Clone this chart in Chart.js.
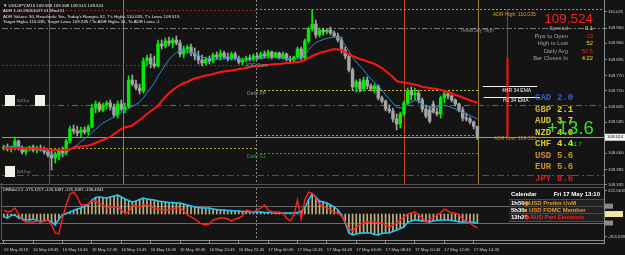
<!DOCTYPE html>
<html>
<head>
<meta charset="utf-8">
<title>USDJPY M15</title>
<script src="https://cdn.jsdelivr.net/npm/chart.js@4.4.1/dist/chart.umd.min.js"></script>
<style>
  html, body { margin: 0; padding: 0; background: #141414; }
  #box { position: relative; width: 625px; height: 255px; overflow: hidden; font-family: 'Liberation Sans', Arial, sans-serif; }
  canvas { position: absolute; left: 0; }
  .t { position: absolute; white-space: nowrap; line-height: 1; }
  .r { text-align: right; }
  .mono { font-family: 'Liberation Mono', monospace; font-weight: bold; }
  .wb { position: absolute; background: #f2f2ea; width: 10px; height: 11px; }
  .cal { position: absolute; left: 509px; width: 95px; height: 7px; font-weight: bold; font-size: 6px; line-height: 7px; color: #fff; }
  .cal span { position: absolute; top: 0; }
</style>
</head>
<body>
<div id="box">
  <canvas id="main" width="625" height="190" style="top:0;width:625px;height:190px"></canvas>
  <canvas id="cci" width="625" height="72" style="top:183px;width:625px;height:72px"></canvas>

  <div class="t" style="left:3px;top:2.5px;font-size:4.4px;line-height:5.6px;color:#e6e6e6">
    ▼ USDJPY,M15 109.568 109.568 109.515 109.524<br>
    ADR 1.00 20051027 01 Mod 01<br>
    ADR Values: 50, Reached= Yes, Today's Range= 52, T's High= 110.035, T's Low= 109.515<br>
    Target High= 110.035, Target Low= 109.535 / To ADR High= 51, To ADR Low= -1
  </div>

  <div class="wb" style="left:5px;top:95px"></div>
  <div class="wb" style="left:35px;top:95px"></div>
  <div class="t" style="left:17px;top:99px;font-size:4px;color:#9a9a9a">5015 p</div>
  <div class="wb" style="left:5px;top:166px"></div>
  <div class="t" style="left:17px;top:170px;font-size:4px;color:#9a9a9a">5015 rp</div>

  <div class="t" style="left:493px;top:11.5px;font-size:5px;color:#e0a020">ADR High: 110.035</div>
  <div class="t" style="left:460px;top:27.5px;font-size:5px;color:#8c8c8c">Yesterday High</div>
  <div class="t" style="left:245px;top:62.5px;font-size:5px;color:#8c8c8c">ADR Start</div>
  <div class="t" style="left:247px;top:90.5px;font-size:5px;color:#8c8c8c">Daily PP</div>
  <div class="t" style="left:247px;top:153.5px;font-size:5px;color:#30a030">Daily S1</div>
  <div class="t" style="left:494px;top:135.5px;font-size:5px;color:#c08030">ADR Low: 109.535</div>
  <div class="t" style="left:502px;top:87.5px;font-size:5px;color:#f0f0f0">4HR 34 EMA</div>
  <div class="t" style="left:503px;top:97.5px;font-size:5px;color:#f0f0f0">H1 34 EMA</div>

  <div class="t r" style="right:32px;top:11.5px;font-size:13.5px;color:#ff1e1e">109.524</div>
  <div class="t r" style="right:57px;top:25.3px;font-size:5.8px;line-height:7.4px;color:#a0a0a0">
    Spread<br>Pips to Open<br>High to Low<br>Daily Avg<br>Bar Closes In
  </div>
  <div class="t r" style="right:32px;top:25.3px;font-size:5.8px;line-height:7.4px">
    <span style="color:#f0e020">0.1</span><br>
    <span style="color:#ff2020">-13</span><br>
    <span style="color:#f0e020">52</span><br>
    <span style="color:#ff2020">50.5</span><br>
    <span style="color:#f0e020">4:22</span>
  </div>

  <div class="t mono" style="left:535px;top:93.3px;font-size:9px;line-height:11.5px">
    <span style="color:#2f63c9">CAD</span><br>
    <span style="color:#c8b030">GBP</span><br>
    <span style="color:#d8c830">AUD</span><br>
    <span style="color:#d8c830">NZD</span><br>
    <span style="color:#d8c830">CHF</span><br>
    <span style="color:#d08a28">USD</span><br>
    <span style="color:#d08a28">EUR</span><br>
    <span style="color:#d82020">JPY</span>
  </div>
  <div class="t mono" style="left:557px;top:93.3px;font-size:9px;line-height:11.5px">
    <span style="color:#2f63c9">2.0</span><br>
    <span style="color:#e8d820">2.1</span><br>
    <span style="color:#e8d820">3.7</span><br>
    <span style="color:#e8d820">4.0</span><br>
    <span style="color:#e8d820">4.4</span><br>
    <span style="color:#d08a28">5.6</span><br>
    <span style="color:#d08a28">5.6</span><br>
    <span style="color:#d82020">8.6</span>
  </div>
  <div class="t" style="left:547px;top:119px;font-size:18.5px;color:#2ee02e">+13.6</div>
  <div class="t" style="left:568px;top:142px;font-size:5.5px;color:#2ee02e">+11.7</div>

  <div class="t" style="left:3px;top:188px;font-size:4.2px;color:#e6e6e6">DRBdsCCI -175.1217 -123.1087 -121.1087 -136.4341</div>

  <div class="cal" style="top:190.5px">
    <span style="left:2px">Calendar</span><span style="right:4px">Fri 17 May 13:10</span>
  </div>
  <div class="cal" style="top:198.5px;background:rgba(34,34,34,0.9);border-top:1px solid #4a4a4a">
    <span style="left:2px">1h50</span><span style="left:15px;color:#e89a2c">◉</span><span style="left:20px;color:#e89a2c">USD Prelim UoM</span>
  </div>
  <div class="cal" style="top:205.5px;background:rgba(34,34,34,0.9);border-top:1px solid #4a4a4a">
    <span style="left:2px">5h30</span><span style="left:15px;color:#e89a2c">■</span><span style="left:20px;color:#e89a2c">USD FOMC Member</span>
  </div>
  <div class="cal" style="top:212.5px;background:rgba(34,34,34,0.9);border-top:1px solid #4a4a4a;border-bottom:1px solid #4a4a4a">
    <span style="left:2px">13h20</span><span style="left:16px;color:#ff2020">◆</span><span style="left:21px;color:#ff2020">AUD Parl Elections</span>
  </div>
</div>

<script>
// time axis: one bar every 15 minutes, a label every 8 bars
const timeLabels = ['16 May 2019', '16 May 08:45', '16 May 10:45', '16 May 12:45', '16 May 14:45',
  '16 May 16:45', '16 May 18:45', '16 May 20:45', '16 May 22:45', '17 May 00:45', '17 May 02:45',
  '17 May 04:45', '17 May 06:45', '17 May 08:45', '17 May 10:45', '17 May 12:45', '17 May 14:45'];
const timeLabelIdx = [0, 8, 16, 24, 32, 40, 48, 56, 64, 72, 80, 88, 96, 104, 112, 120, 128];

// USDJPY M15 candles
const opens = [
  109.481, 109.485, 109.477, 109.481, 109.509, 109.481, 109.465, 109.477, 109.485, 109.473,
  109.481, 109.473, 109.465, 109.453, 109.441, 109.449, 109.473, 109.461, 109.509, 109.557,
  109.549, 109.541, 109.553, 109.545, 109.565, 109.641, 109.657, 109.633, 109.653, 109.661,
  109.645, 109.613, 109.657, 109.637, 109.645, 109.753, 109.737, 109.721, 109.709, 109.829,
  109.841, 109.817, 109.809, 109.897, 109.889, 109.909, 109.901, 109.913, 109.901, 109.857,
  109.877, 109.885, 109.861, 109.849, 109.833, 109.821, 109.837, 109.829, 109.853, 109.845,
  109.861, 109.845, 109.837, 109.857, 109.841, 109.825, 109.833, 109.841, 109.837, 109.849,
  109.841, 109.857, 109.849, 109.865, 109.845, 109.861, 109.841, 109.857, 109.837, 109.833,
  109.845, 109.877, 109.841, 109.909, 109.957, 109.977, 109.933, 109.953, 109.945, 109.953,
  109.941, 109.929, 109.913, 109.873, 109.849, 109.793, 109.725, 109.745, 109.717, 109.753,
  109.729, 109.717, 109.729, 109.681, 109.669, 109.637, 109.629, 109.597, 109.577, 109.617,
  109.661, 109.709, 109.693, 109.701, 109.673, 109.637, 109.633, 109.657, 109.625, 109.617,
  109.681, 109.697, 109.689, 109.673, 109.657, 109.633, 109.601, 109.597, 109.585, 109.568];
const highs = [
  109.493, 109.497, 109.489, 109.525, 109.513, 109.489, 109.485, 109.489, 109.493, 109.489,
  109.493, 109.485, 109.477, 109.469, 109.465, 109.481, 109.485, 109.517, 109.569, 109.573,
  109.569, 109.565, 109.565, 109.573, 109.657, 109.669, 109.665, 109.661, 109.669, 109.673,
  109.657, 109.669, 109.673, 109.661, 109.769, 109.773, 109.753, 109.737, 109.841, 109.853,
  109.857, 109.849, 109.913, 109.913, 109.921, 109.925, 109.921, 109.929, 109.913, 109.889,
  109.893, 109.897, 109.881, 109.869, 109.853, 109.845, 109.849, 109.861, 109.865, 109.873,
  109.869, 109.861, 109.865, 109.865, 109.849, 109.841, 109.849, 109.853, 109.857, 109.861,
  109.865, 109.869, 109.873, 109.869, 109.865, 109.865, 109.865, 109.861, 109.849, 109.849,
  109.885, 109.885, 109.917, 109.965, 110.035, 109.993, 109.961, 109.961, 109.957, 109.965,
  109.949, 109.941, 109.925, 109.885, 109.857, 109.801, 109.753, 109.757, 109.765, 109.765,
  109.737, 109.737, 109.733, 109.689, 109.673, 109.653, 109.641, 109.617, 109.625, 109.669,
  109.721, 109.725, 109.721, 109.713, 109.681, 109.653, 109.649, 109.669, 109.641, 109.689,
  109.705, 109.701, 109.693, 109.677, 109.661, 109.645, 109.621, 109.605, 109.589, 109.568];
const lows = [
  109.473, 109.469, 109.465, 109.473, 109.473, 109.457, 109.453, 109.469, 109.465, 109.461,
  109.469, 109.457, 109.445, 109.393, 109.421, 109.433, 109.445, 109.453, 109.501, 109.537,
  109.529, 109.525, 109.537, 109.533, 109.561, 109.621, 109.625, 109.625, 109.637, 109.633,
  109.605, 109.601, 109.629, 109.621, 109.641, 109.729, 109.713, 109.697, 109.701, 109.809,
  109.801, 109.801, 109.805, 109.877, 109.881, 109.889, 109.881, 109.893, 109.845, 109.841,
  109.861, 109.849, 109.833, 109.817, 109.809, 109.813, 109.817, 109.821, 109.837, 109.833,
  109.837, 109.829, 109.833, 109.833, 109.817, 109.813, 109.825, 109.829, 109.829, 109.833,
  109.837, 109.841, 109.841, 109.837, 109.841, 109.837, 109.837, 109.829, 109.825, 109.825,
  109.841, 109.833, 109.833, 109.901, 109.949, 109.921, 109.925, 109.933, 109.937, 109.933,
  109.925, 109.905, 109.861, 109.837, 109.785, 109.713, 109.705, 109.705, 109.709, 109.717,
  109.709, 109.701, 109.673, 109.661, 109.629, 109.621, 109.585, 109.553, 109.561, 109.609,
  109.653, 109.673, 109.673, 109.661, 109.625, 109.601, 109.581, 109.621, 109.609, 109.601,
  109.661, 109.677, 109.665, 109.649, 109.625, 109.589, 109.589, 109.577, 109.557, 109.515];
const closes = [
  109.485, 109.477, 109.481, 109.509, 109.481, 109.465, 109.477, 109.485, 109.473, 109.481,
  109.473, 109.465, 109.453, 109.441, 109.457, 109.473, 109.461, 109.509, 109.557, 109.549,
  109.541, 109.553, 109.545, 109.565, 109.641, 109.657, 109.633, 109.653, 109.661, 109.645,
  109.613, 109.657, 109.637, 109.645, 109.753, 109.737, 109.721, 109.709, 109.829, 109.841,
  109.817, 109.809, 109.897, 109.889, 109.909, 109.901, 109.913, 109.901, 109.857, 109.877,
  109.885, 109.861, 109.849, 109.833, 109.821, 109.837, 109.829, 109.853, 109.845, 109.861,
  109.845, 109.837, 109.857, 109.841, 109.825, 109.833, 109.841, 109.837, 109.849, 109.841,
  109.857, 109.849, 109.865, 109.845, 109.861, 109.841, 109.857, 109.837, 109.833, 109.845,
  109.877, 109.841, 109.909, 109.957, 109.977, 109.933, 109.953, 109.945, 109.953, 109.941,
  109.929, 109.913, 109.873, 109.849, 109.793, 109.725, 109.745, 109.717, 109.753, 109.729,
  109.717, 109.729, 109.681, 109.669, 109.637, 109.629, 109.597, 109.577, 109.617, 109.661,
  109.709, 109.693, 109.701, 109.673, 109.637, 109.609, 109.589, 109.625, 109.617, 109.681,
  109.697, 109.689, 109.673, 109.657, 109.633, 109.601, 109.597, 109.585, 109.568, 109.524];

// moving averages
const emaSlow = [
  109.481, 109.481, 109.481, 109.481, 109.481, 109.479, 109.479, 109.479, 109.479, 109.479,
  109.477, 109.477, 109.475, 109.473, 109.473, 109.473, 109.473, 109.473, 109.477, 109.481,
  109.485, 109.487, 109.489, 109.491, 109.495, 109.501, 109.507, 109.513, 109.519, 109.525,
  109.537, 109.547, 109.557, 109.563, 109.567, 109.571, 109.583, 109.593, 109.605, 109.617,
  109.629, 109.639, 109.649, 109.669, 109.685, 109.701, 109.713, 109.723, 109.733, 109.741,
  109.745, 109.753, 109.759, 109.763, 109.767, 109.771, 109.773, 109.777, 109.781, 109.785,
  109.787, 109.789, 109.791, 109.793, 109.797, 109.799, 109.801, 109.805, 109.807, 109.809,
  109.811, 109.813, 109.813, 109.815, 109.817, 109.817, 109.819, 109.821, 109.821, 109.823,
  109.825, 109.827, 109.833, 109.841, 109.849, 109.855, 109.861, 109.865, 109.869, 109.873,
  109.877, 109.875, 109.873, 109.865, 109.855, 109.849, 109.843, 109.837, 109.833, 109.827,
  109.823, 109.817, 109.809, 109.801, 109.789, 109.777, 109.765, 109.749, 109.745, 109.743,
  109.741, 109.737, 109.735, 109.731, 109.725, 109.723, 109.721, 109.719, 109.717, 109.713,
  109.709, 109.705, 109.699, 109.693, 109.689, 109.683, 109.677, 109.671, 109.667, 109.661];
const emaFast = [
  109.485, 109.485, 109.485, 109.489, 109.487, 109.483, 109.481, 109.481, 109.479, 109.477,
  109.473, 109.471, 109.467, 109.461, 109.453, 109.451, 109.453, 109.461, 109.473, 109.485,
  109.493, 109.507, 109.517, 109.529, 109.543, 109.555, 109.569, 109.581, 109.589, 109.597,
  109.605, 109.615, 109.623, 109.629, 109.639, 109.647, 109.655, 109.665, 109.681, 109.701,
  109.721, 109.741, 109.769, 109.791, 109.813, 109.835, 109.851, 109.863, 109.869, 109.871,
  109.867, 109.863, 109.857, 109.851, 109.845, 109.841, 109.839, 109.837, 109.835, 109.837,
  109.839, 109.839, 109.841, 109.839, 109.837, 109.835, 109.833, 109.833, 109.835, 109.837,
  109.839, 109.841, 109.843, 109.843, 109.843, 109.841, 109.841, 109.839, 109.837, 109.835,
  109.837, 109.841, 109.853, 109.873, 109.891, 109.903, 109.909, 109.915, 109.919, 109.923,
  109.925, 109.923, 109.913, 109.893, 109.869, 109.845, 109.825, 109.809, 109.793, 109.773,
  109.757, 109.743, 109.729, 109.713, 109.693, 109.677, 109.661, 109.645, 109.641, 109.645,
  109.657, 109.665, 109.671, 109.669, 109.655, 109.649, 109.645, 109.643, 109.645, 109.649,
  109.651, 109.649, 109.643, 109.637, 109.629, 109.623, 109.617, 109.611, 109.605, 109.597];

const priceTicks = [110.025, 109.960, 109.900, 109.835, 109.770, 109.710, 109.645, 109.585, 109.460, 109.395, 109.335];

// CCI sub window
const cciMain = [
  1, -22, -11, 24, -46, -115, -139, -139, -139, -127,
  -139, -127, -115, -173, -266, -278, -92, 59, 187, 210,
  152, 59, 59, 70, 105, 105, 82, 59, 24, 36,
  36, 36, 1, -34, -22, 59, 47, 36, 59, 59,
  36, 24, 12, 1, 1, 1, 12, 24, 24, -11,
  -57, -80, -104, -139, -162, -173, -162, -115, -104, -92,
  -92, -104, -127, -104, -92, -69, 1, -11, -22, 1,
  24, 59, 1, -22, -22, -22, -34, -92, -127, -57,
  117, -104, 117, 210, 198, 140, 70, 47, 24, 1,
  -22, -34, -69, -139, -220, -243, -197, -173, -150, -139,
  -139, -139, -145, -150, -173, -197, -173, -150, -115, -80,
  -46, -34, -22, -57, -92, -139, -104, -92, -57, -34,
  12, -11, -34, -34, -57, -104, -127, -150, -185, -208];
const cciSignal = [
  -80, -92, -63, -57, -92, -104, -115, -115, -104, -121,
  -139, -127, -115, -139, -173, -104, -57, -40, -22, -5,
  12, 24, 47, 65, 117, 146, 152, 146, 140, 152,
  163, 175, 152, 129, 111, 94, 105, 123, 140, 129,
  123, 117, 105, 100, 94, 88, 88, 82, 82, 70,
  59, 47, 36, 30, 24, 24, 24, 12, 7, 1,
  1, -5, -5, -11, -11, -17, -17, -22, -22, -22,
  -22, -28, -28, -28, -34, -34, -34, -34, -34, -34,
  -28, -17, 30, 117, 187, 152, 105, 94, 82, 59,
  36, 1, -57, -150, -266, -290, -278, -266, -266, -266,
  -266, -284, -290, -272, -266, -266, -249, -232, -214, -197,
  -145, -127, -115, -121, -127, -133, -139, -127, -121, -115,
  -115, -115, -121, -127, -139, -139, -139, -139, -145, -150];
const cciTicks = [221.5635, -313.0286];
const cciLevels = [45, -150];
const cciHistBase = -46;

// horizontal levels: price, from bar, to bar
const levelNames = ['prevAdrHigh', 'adrHigh', 'yesterdayHigh', 'adrStart', 'dailyPP', 'ema4h', 'emaH1',
  'r1green', 'r1red', 'adrLow', 'bid', 'prevLow', 'dailyS1', 'lowRed'];
const levelPrices = [110.031, 110.035, 109.961, 109.813, 109.713, 109.729, 109.685,
  109.653, 109.653, 109.535, 109.524, 109.481, 109.461, 109.373];
const levelFrom = [-0.5, 68.7, -0.5, -0.5, 68.7, 130.5, 130.7, -0.5, -0.5, 68.7, -0.5, -0.5, 68.7, -0.5];
const levelTo = [68.7, 163.5, 163.5, 68.7, 129.2, 145.3, 146.0, 163.5, 163.5, 129.2, 163.5, 68.7, 129.2, 163.5];

// vertical markers (bar positions)
const sessionIdx = [12.3, 32.5, 109, 129.2];
const daySepIdx = 68.7;
const adrIdx = 137.1;
const adrSpan = [110.035, 109.841, 109.524];

const xMin = -0.5, xMax = 163.5;
const FONT = 'Liberation Sans';

const levelStyle = {
  prevAdrHigh: { color: '#8a2a1a', dash: [2, 2] },
  adrHigh: { color: '#d08a20', dash: [2, 2] },
  yesterdayHigh: { color: '#7a7a7a', dash: [6, 2, 2, 2] },
  adrStart: { color: '#8a2a1a', dash: [2, 2] },
  dailyPP: { color: '#c8c020', dash: [2, 2] },
  ema4h: { color: '#f4f4f4', dash: [] },
  emaH1: { color: '#f4f4f4', dash: [] },
  r1green: { color: '#1e9a2a', dash: [6, 3, 2, 3] },
  r1red: { color: '#c02020', dash: [2, 12], offset: -9 },
  adrLow: { color: '#c08a20', dash: [2, 2] },
  bid: { color: '#9a9a9a', dash: [] },
  prevLow: { color: '#a0a020', dash: [2, 2] },
  dailyS1: { color: '#2aa02a', dash: [2, 2] },
  lowRed: { color: '#c82020', dash: [7, 3, 2, 3] }
};
const sessionColors = ['#a8401c', '#a87830', '#c84a24', '#9a7a3a'];

function hline(ctx, x0, x1, y) {
  ctx.beginPath(); ctx.moveTo(x0, y); ctx.lineTo(x1, y); ctx.stroke();
}
function vline(ctx, x, y0, y1) {
  ctx.beginPath(); ctx.moveTo(x, y0); ctx.lineTo(x, y1); ctx.stroke();
}

const mainDeco = {
  id: 'mainDeco',
  beforeDatasetsDraw(chart) {
    const { ctx, chartArea: a, scales: { x, y } } = chart;
    ctx.save();
    ctx.beginPath(); ctx.rect(a.left, a.top, a.right - a.left, a.bottom - a.top); ctx.clip();
    ctx.lineWidth = 1;
    // left frame line
    ctx.strokeStyle = '#5a5a5a';
    vline(ctx, 1.5, a.top, a.bottom);
    sessionIdx.forEach((v, k) => {
      ctx.strokeStyle = sessionColors[k];
      vline(ctx, Math.round(x.getPixelForValue(v)) + 0.5, a.top, a.bottom);
    });
    ctx.strokeStyle = '#8a8a8a';
    ctx.setLineDash([2, 2]);
    vline(ctx, Math.round(x.getPixelForValue(daySepIdx)) + 0.5, a.top, a.bottom);
    levelNames.forEach((name, k) => {
      const st = levelStyle[name];
      ctx.strokeStyle = st.color;
      ctx.setLineDash(st.dash);
      ctx.lineDashOffset = st.offset || 0;
      const py = Math.round(y.getPixelForValue(levelPrices[k])) + 0.5;
      hline(ctx, x.getPixelForValue(levelFrom[k]), x.getPixelForValue(levelTo[k]), py);
    });
    ctx.setLineDash([]);
    ctx.lineDashOffset = 0;
    const ax = Math.round(x.getPixelForValue(adrIdx)) + 0.5;
    ctx.strokeStyle = '#ff1010';
    vline(ctx, ax, y.getPixelForValue(adrSpan[0]), y.getPixelForValue(adrSpan[1]));
    ctx.lineWidth = 2;
    vline(ctx, ax, y.getPixelForValue(adrSpan[1]), y.getPixelForValue(adrSpan[2]));
    ctx.restore();
  },
  afterDraw(chart) {
    const { ctx, chartArea: a, scales: { y } } = chart;
    const last = closes[closes.length - 1];
    const py = y.getPixelForValue(last);
    ctx.save();
    ctx.fillStyle = '#f4f4f4';
    ctx.fillRect(a.right + 1, py - 3.5, 20, 7);
    ctx.fillStyle = '#000';
    ctx.font = '4.4px ' + FONT;
    ctx.textBaseline = 'middle';
    ctx.fillText(last.toFixed(3), a.right + 3, py);
    ctx.restore();
  }
};

const cciDeco = {
  id: 'cciDeco',
  beforeDatasetsDraw(chart) {
    const { ctx, chartArea: a, scales: { x, y } } = chart;
    ctx.save();
    ctx.lineWidth = 1;
    ctx.strokeStyle = '#6a6a66';
    cciLevels.forEach(v => hline(ctx, a.left, a.right, Math.round(y.getPixelForValue(v)) + 0.5));
    ctx.strokeStyle = '#5a5a5a';
    vline(ctx, 1.5, 0, a.bottom);
    ctx.strokeStyle = '#8a8a8a';
    ctx.setLineDash([2, 2]);
    vline(ctx, Math.round(x.getPixelForValue(daySepIdx)) + 0.5, a.top, a.bottom);
    ctx.restore();
  },
  afterDraw(chart) {
    const { ctx, chartArea: a, scales: { y } } = chart;
    ctx.save();
    ctx.lineWidth = 1;
    ctx.strokeStyle = '#555';
    hline(ctx, 0, a.right, 1.5);
    hline(ctx, 0, a.right, 4.5);
    ctx.strokeStyle = '#8c8c8c';
    vline(ctx, a.right + 0.5, 0, a.bottom + 4);
    hline(ctx, 0, a.right, a.bottom + 3.5);
    ctx.fillStyle = '#8a8a8a';
    cciLevels.forEach(v => ctx.fillRect(a.right + 1, y.getPixelForValue(v) - 2.5, 8, 5));
    ctx.fillStyle = '#f0e6a0';
    ctx.fillRect(a.right + 1, y.getPixelForValue(cciHistBase) - 3, 18, 6);
    ctx.restore();
  }
};

const candleColor = closes.map((c, i) => c >= opens[i] ? '#00ee00' : '#a4a4a4');

const yAxisBase = {
  position: 'right',
  grid: { drawOnChartArea: false, tickLength: 3, color: '#8c8c8c' },
  border: { display: true, color: '#8c8c8c' }
};

new Chart(document.getElementById('main'), {
  type: 'bar',
  data: {
    datasets: [
      { type: 'line', label: 'EMA slow', data: emaSlow.map((v, i) => ({ x: i, y: v })),
        borderColor: '#ff1414', borderWidth: 2, pointRadius: 0, order: 0 },
      { type: 'line', label: 'EMA fast', data: emaFast.map((v, i) => ({ x: i, y: v })),
        borderColor: '#2a8fd0', borderWidth: 1, pointRadius: 0, order: 1 },
      { label: 'Body', data: opens.map((o, i) => ({ x: i, y: [o, closes[i]] })),
        backgroundColor: candleColor, barThickness: 2.8, grouped: false, minBarLength: 1, order: 2 },
      { label: 'Wick', data: lows.map((l, i) => ({ x: i, y: [l, highs[i]] })),
        backgroundColor: candleColor, barThickness: 1, grouped: false, order: 3 }
    ]
  },
  options: {
    responsive: false,
    animation: false,
    events: [],
    layout: { padding: { left: 2, right: 0, top: 0, bottom: 6 } },
    plugins: { legend: { display: false }, tooltip: { enabled: false } },
    scales: {
      x: { type: 'linear', min: xMin, max: xMax, offset: false, display: false },
      y: {
        ...yAxisBase,
        min: 109.337, max: 110.073,
        ticks: { color: '#cfcfcf', font: { family: FONT, size: 4.3 }, padding: 1, autoSkip: false,
          callback: v => v.toFixed(3) },
        afterBuildTicks: s => { s.ticks = priceTicks.map(v => ({ value: v })); },
        afterFit: s => { s.width = 21; s.paddingTop = 0; s.paddingBottom = 0; }
      }
    }
  },
  plugins: [mainDeco]
});

new Chart(document.getElementById('cci'), {
  type: 'bar',
  data: {
    datasets: [
      { type: 'line', label: 'CCI', data: cciMain.map((v, i) => ({ x: i, y: v })),
        borderColor: '#ff2020', borderWidth: 1.4, pointRadius: 0, order: 0 },
      { type: 'line', label: 'Signal', data: cciSignal.map((v, i) => ({ x: i, y: v })),
        borderColor: '#1ec8ff', borderWidth: 1.5, pointRadius: 0, order: 1 },
      { label: 'Histogram', data: cciSignal.map((v, i) => ({ x: i, y: [cciHistBase, v] })),
        backgroundColor: '#c4b07c', barThickness: 1, grouped: false, order: 2 }
    ]
  },
  options: {
    responsive: false,
    animation: false,
    events: [],
    layout: { padding: { left: 2, right: 0, top: 5, bottom: 0 } },
    plugins: { legend: { display: false }, tooltip: { enabled: false } },
    scales: {
      x: {
        type: 'linear', min: xMin, max: xMax, offset: false,
        grid: { drawOnChartArea: false, tickLength: 3, color: '#8c8c8c', offset: false },
        border: { display: true, color: '#8c8c8c' },
        ticks: { color: '#cfcfcf', font: { family: FONT, size: 4.2 }, padding: 4, align: 'start',
          maxRotation: 0, autoSkip: false,
          callback: v => { const k = timeLabelIdx.indexOf(v); return k < 0 ? '' : timeLabels[k]; } },
        afterBuildTicks: s => { s.ticks = timeLabelIdx.map(v => ({ value: v })); },
        afterFit: s => { s.height = 15; s.paddingLeft = 0; s.paddingRight = 0; }
      },
      y: {
        ...yAxisBase,
        min: -347.9, max: 256.4,
        ticks: { color: '#cfcfcf', font: { family: FONT, size: 4.3 }, padding: 1, autoSkip: false,
          callback: v => v.toFixed(4) },
        afterBuildTicks: s => { s.ticks = cciTicks.map(v => ({ value: v })); },
        afterFit: s => { s.width = 21; s.paddingTop = 0; s.paddingBottom = 0; }
      }
    }
  },
  plugins: [cciDeco]
});
</script>
</body>
</html>
